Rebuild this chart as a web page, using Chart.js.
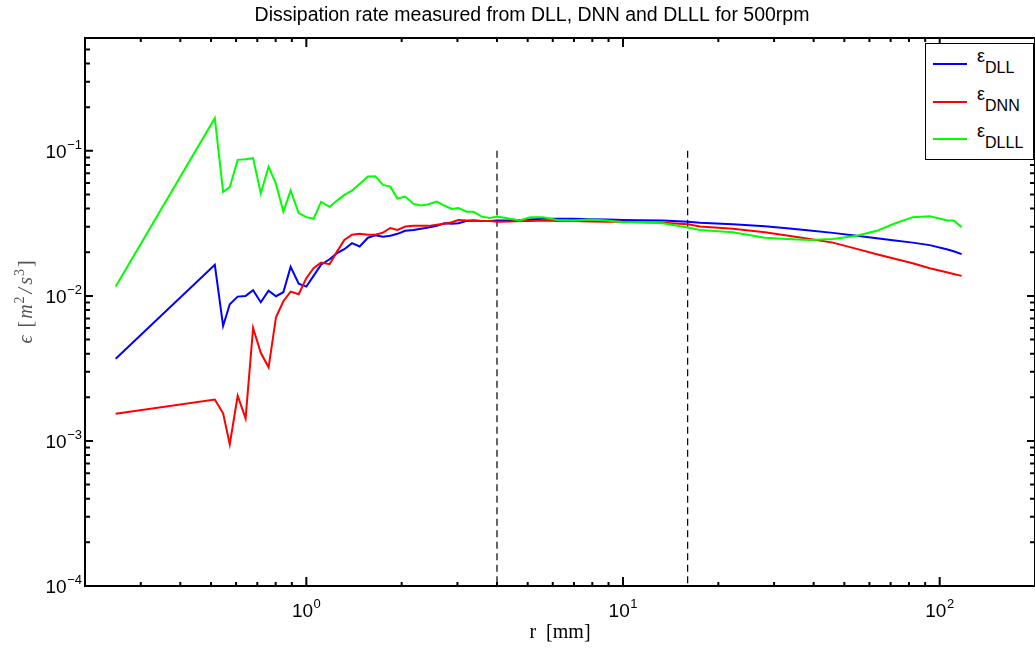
<!DOCTYPE html>
<html>
<head>
<meta charset="utf-8">
<title>Dissipation rate</title>
<script src="https://cdn.jsdelivr.net/npm/chart.js@4.4.1/dist/chart.umd.min.js"></script>
<style>
    html, body { margin: 0; padding: 0; background: #fff; }
    #wrap { position: relative; width: 1035px; height: 650px; overflow: hidden; }
    #legend {
        position: absolute; left: 925px; top: 43px; width: 107px; height: 115px;
        border: 1px solid #000; background: #fff;
        font-family: "Liberation Sans", Arial, sans-serif; color: #000;
    }
    .swatch { position: absolute; left: 7px; width: 34px; height: 2px; }
    .lbl { position: absolute; left: 51px; font-size: 18px; line-height: 18px; white-space: nowrap; }
    .lbl span { position: relative; top: 11px; font-size: 16px; }
</style>
</head>
<body>
<div id="wrap">
    <canvas id="epsChart" width="1035" height="650"></canvas>
    <div id="legend">
        <div class="swatch" style="top:19px;background:#0000ff"></div>
        <div class="lbl" style="top:3px">ε<span>DLL</span></div>
        <div class="swatch" style="top:57px;background:#ff0000"></div>
        <div class="lbl" style="top:41px">ε<span>DNN</span></div>
        <div class="swatch" style="top:94px;background:#00ff00"></div>
        <div class="lbl" style="top:78px">ε<span>DLLL</span></div>
    </div>
</div>
<script>
// separation r [mm]
const rValues = [0.25, 0.514, 0.546, 0.573, 0.607, 0.643, 0.679, 0.718, 0.76, 0.802,
    0.846, 0.892, 0.946, 1.0, 1.054, 1.113, 1.184, 1.25, 1.318, 1.394,
    1.473, 1.565, 1.651, 1.746, 1.841, 1.941, 2.053, 2.181, 2.301, 2.431,
    2.585, 2.725, 2.882, 3.023, 3.213, 3.372, 3.583, 3.805, 4.005, 4.401,
    4.733, 5.09, 5.593, 6.19, 6.955, 7.87, 8.9, 10.0, 11.31, 13.37,
    16.03, 17.5, 22.23, 28.06, 32.92, 38.9, 45.97, 54.73, 63.29, 71.11,
    82.18, 93.0, 105.2, 110.7, 117.3];

// dissipation rate [m^2/s^3]
const epsDLL = [0.00369, 0.0164, 0.00621, 0.00877, 0.00989, 0.0100, 0.01095, 0.00905, 0.01088, 0.00995,
    0.0106, 0.01585, 0.01216, 0.01159, 0.01374, 0.0164, 0.0179, 0.0197, 0.0210, 0.0231,
    0.0219, 0.0252, 0.0262, 0.0256, 0.0260, 0.0268, 0.0281, 0.0285, 0.0290, 0.0296,
    0.0305, 0.0317, 0.0314, 0.0317, 0.0329, 0.0331, 0.0329, 0.0328, 0.0331, 0.0332,
    0.0334, 0.0337, 0.0340, 0.0341, 0.0340, 0.0338, 0.0336, 0.0334, 0.0333, 0.0331,
    0.0325, 0.0320, 0.0312, 0.0302, 0.0293, 0.0282, 0.0272, 0.0260, 0.0250, 0.0242,
    0.0233, 0.0224, 0.0210, 0.0203, 0.0194];

const epsDNN = [0.00154, 0.00193, 0.00155, 0.000949, 0.00205, 0.00143, 0.00602, 0.00405, 0.00322, 0.00713,
    0.00919, 0.01071, 0.01027, 0.01325, 0.01552, 0.01697, 0.01654, 0.0202, 0.0243, 0.0264,
    0.0268, 0.0264, 0.0264, 0.0273, 0.0294, 0.0285, 0.0301, 0.0304, 0.0304, 0.0304,
    0.0309, 0.0314, 0.0322, 0.0334, 0.0331, 0.0331, 0.0329, 0.0328, 0.0325, 0.0326,
    0.0328, 0.0329, 0.0331, 0.0329, 0.0328, 0.0326, 0.0325, 0.0324, 0.0322, 0.0319,
    0.0312, 0.0301, 0.0290, 0.0275, 0.0261, 0.0247, 0.0233, 0.0211, 0.0194, 0.0182,
    0.0168, 0.0155, 0.01457, 0.01418, 0.01374];

const epsDLLL = [0.0116, 0.168, 0.0521, 0.0562, 0.0867, 0.0877, 0.0891, 0.0511, 0.0779, 0.0592,
    0.0381, 0.0532, 0.0372, 0.0349, 0.0340, 0.0445, 0.0411, 0.0454, 0.0497, 0.0532,
    0.0592, 0.0665, 0.0669, 0.0583, 0.0567, 0.0469, 0.0484, 0.0431, 0.0420, 0.0429,
    0.0447, 0.0420, 0.0398, 0.0403, 0.0381, 0.0380, 0.0352, 0.0344, 0.0353, 0.0340,
    0.0331, 0.0349, 0.0349, 0.0334, 0.0331, 0.0337, 0.0331, 0.0322, 0.0322, 0.0317,
    0.0296, 0.0285, 0.0275, 0.0252, 0.0247, 0.0243, 0.0247, 0.0260, 0.0281, 0.0312,
    0.0349, 0.0354, 0.0333, 0.0331, 0.0298];

// inertial range markers
const markerR = [4, 16];
const markerEps = [1e-1, 1e-4];

// decade ticks and their exponents
const xTickValues = [1, 10, 100];
const xTickExps = ['0', '1', '2'];
const yTickValues = [1e-4, 1e-3, 1e-2, 1e-1];
const yTickExps = ['\u22124', '\u22123', '\u22122', '\u22121'];

const chartTitle = 'Dissipation rate measured from DLL, DNN and DLLL for 500rpm';

const SANS = '"Liberation Sans", Arial, sans-serif';
const SERIF = '"Liberation Serif", "DejaVu Serif", serif';

function toPoints(ys) {
    return rValues.map((r, i) => ({ x: r, y: ys[i] }));
}

function markerLine(r) {
    return {
        data: markerEps.map(e => ({ x: r, y: e })),
        borderColor: '#000',
        borderWidth: 1.2,
        borderDash: [7, 4.5],
        pointRadius: 0,
        order: 4
    };
}

// "10" with a raised exponent, anchored at left x
function drawPower(ctx, exp, left, baseline) {
    ctx.font = '19px ' + SANS;
    ctx.fillText('10', left, baseline);
    const w = ctx.measureText('10').width;
    ctx.font = '13px ' + SANS;
    ctx.fillText(exp, left + w + 0.5, baseline - 9);
}

function powerWidth(ctx, exp) {
    ctx.font = '19px ' + SANS;
    const w = ctx.measureText('10').width;
    ctx.font = '13px ' + SANS;
    return w + 0.5 + ctx.measureText(exp).width;
}

// y axis title: epsilon [m^2/s^3], LaTeX-like
const yTitleParts = [
    ['\u03f5', 'italic 20px ' + SERIF, 0, 8],
    ['[', '20px ' + SERIF, 0, 2],
    ['m', 'italic 20px ' + SERIF, 0, 1],
    ['2', '14px ' + SERIF, 8, 3],
    ['/', 'italic 20px ' + SERIF, 0, 3],
    ['s', 'italic 20px ' + SERIF, 0, 1],
    ['3', '14px ' + SERIF, 8, 2],
    [']', '20px ' + SERIF, 0, 0]
];

// frame with inward ticks on all four sides, tick labels and titles
const framePlugin = {
    id: 'frame',
    afterDatasetsDraw(chart) {
        const { ctx, chartArea: a, scales: { x, y } } = chart;
        ctx.save();
        ctx.strokeStyle = '#000';
        ctx.lineWidth = 2;
        ctx.beginPath();
        for (let e = -1; e <= 2; e++) {
            for (let m = 1; m <= 9; m++) {
                const v = m * Math.pow(10, e);
                if (v < x.min || v > x.max) continue;
                const px = x.getPixelForValue(v);
                const len = m === 1 ? 9 : 4;
                ctx.moveTo(px, a.bottom); ctx.lineTo(px, a.bottom - len);
                ctx.moveTo(px, a.top); ctx.lineTo(px, a.top + len);
            }
        }
        for (let e = -4; e <= -1; e++) {
            for (let m = 1; m <= 9; m++) {
                const v = m * Math.pow(10, e);
                if (v < y.min || v > y.max) continue;
                const py = y.getPixelForValue(v);
                const len = m === 1 ? 8 : 5;
                ctx.moveTo(a.left, py); ctx.lineTo(a.left + len, py);
                ctx.moveTo(a.right, py); ctx.lineTo(a.right - len, py);
            }
        }
        ctx.stroke();
        ctx.strokeRect(a.left, a.top, a.right - a.left, a.bottom - a.top);

        // chart title
        ctx.fillStyle = '#000';
        ctx.textBaseline = 'alphabetic';
        ctx.textAlign = 'center';
        ctx.font = '19.5px ' + SANS;
        ctx.fillText(chartTitle, 532, 21);

        // tick labels
        ctx.textAlign = 'left';
        xTickValues.forEach((v, i) => {
            const px = x.getPixelForValue(v);
            const w = powerWidth(ctx, xTickExps[i]);
            drawPower(ctx, xTickExps[i], px - w / 2, a.bottom + 31);
        });
        yTickValues.forEach((v, i) => {
            const py = y.getPixelForValue(v);
            const w = powerWidth(ctx, yTickExps[i]);
            drawPower(ctx, yTickExps[i], a.left - 3 - w, py + 7);
        });

        // y title, rotated
        ctx.fillStyle = '#555';
        ctx.translate(32, 302);
        ctx.rotate(-Math.PI / 2);
        let total = 0;
        yTitleParts.forEach(p => { ctx.font = p[1]; total += ctx.measureText(p[0]).width + p[3]; });
        let cx = -total / 2;
        yTitleParts.forEach(p => {
            ctx.font = p[1];
            ctx.fillText(p[0], cx, -p[2]);
            cx += ctx.measureText(p[0]).width + p[3];
        });
        ctx.restore();
    }
};

Chart.defaults.font.family = SANS;
Chart.defaults.color = '#000';

const ctx = document.getElementById('epsChart');
new Chart(ctx, {
    type: 'line',
    data: {
        datasets: [
            { label: 'DLL', data: toPoints(epsDLL), borderColor: '#0000ff', borderWidth: 2, pointRadius: 0, order: 3 },
            { label: 'DNN', data: toPoints(epsDNN), borderColor: '#ff0000', borderWidth: 2, pointRadius: 0, order: 2 },
            { label: 'DLLL', data: toPoints(epsDLLL), borderColor: '#00ff00', borderWidth: 2, pointRadius: 0, order: 1 },
            markerLine(markerR[0]),
            markerLine(markerR[1])
        ]
    },
    options: {
        responsive: false,
        animation: false,
        devicePixelRatio: 1,
        layout: { padding: { top: 38, right: -2, bottom: 0, left: 0 } },
        plugins: {
            legend: { display: false },
            tooltip: { enabled: false },
            title: { display: false }
        },
        scales: {
            x: {
                type: 'logarithmic',
                position: 'bottom',
                min: 0.2,
                max: 200,
                grid: { display: false },
                border: { display: false },
                afterBuildTicks: s => { s.ticks = xTickValues.map(v => ({ value: v })); },
                afterFit: s => { s.height = 64; },
                ticks: { display: false },
                title: {
                    display: true,
                    text: 'r  [mm]',
                    font: { family: SERIF, size: 20 },
                    color: '#000',
                    padding: { top: 0, bottom: 5 }
                }
            },
            y: {
                type: 'logarithmic',
                min: 1e-4,
                max: 0.6,
                grid: { display: false },
                border: { display: false },
                afterBuildTicks: s => { s.ticks = yTickValues.map(v => ({ value: v })); },
                afterFit: s => { s.width = 85; },
                ticks: { display: false },
                title: { display: false }
            }
        }
    },
    plugins: [framePlugin]
});
</script>
</body>
</html>
